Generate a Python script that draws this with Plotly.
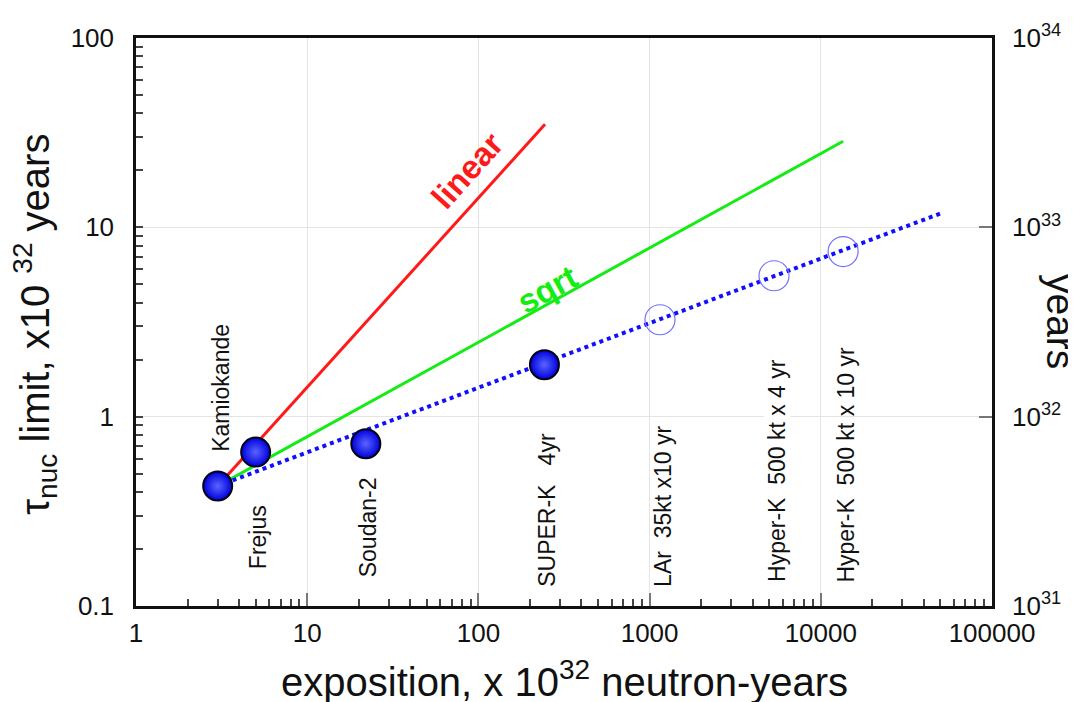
import plotly.graph_objects as go
import math

# ---- data ----
NB = "\u00a0"
exp_names = ["Kamiokande", "Frejus", "Soudan-2", "SUPER-K" + NB * 3 + "4yr"]
exp_x = [3, 5, 22, 243]
exp_y = [0.43, 0.65, 0.72, 1.88]

fut_names = ["LAr" + NB * 2 + "35kt x10 yr", "Hyper-K" + NB * 2 + "500 kt x 4 yr",
             "Hyper-K" + NB * 2 + "500 kt x 10 yr"]
fut_x = [1150, 5330, 13500]
fut_y = [3.25, 5.55, 7.45]

linear_x = [3, 245]
linear_y = [0.43, 35]
sqrt_x = [3, 13500]
sqrt_y = [0.43, 28.5]
fit_x = [3, 52000]
fit_y = [0.43, 12.0]

x_tickvals = [1, 10, 100, 1000, 10000, 100000]
x_ticktext = ["1", "10", "100", "1000", "10000", "100000"]
y_tickvals = [0.1, 1, 10, 100]
y_ticktext = ["0.1", "1", "10", "100"]
y2_ticktext = ["10<sup>31</sup>", "10<sup>32</sup>", "10<sup>33</sup>", "10<sup>34</sup>"]

# minor tick positions (2..9 within each decade)
x_minor = [m * 10 ** e for e in range(0, 5) for m in range(2, 10)]
y_minor = [m * 10.0 ** e for e in range(-1, 2) for m in range(2, 10)]

# combined tick lists for the main axes (labels only on decades)
x_all = x_tickvals + x_minor
x_all_text = x_ticktext + [""] * len(x_minor)
y_all = y_tickvals + y_minor
y_all_text = y_ticktext + [""] * len(y_minor)

FONT = "Liberation Sans, Arial, sans-serif"

fig = go.Figure()

fig.add_trace(go.Scatter(x=linear_x, y=linear_y, mode="lines",
                         line=dict(color="#ff1a1a", width=3), hoverinfo="skip"))
fig.add_trace(go.Scatter(x=sqrt_x, y=sqrt_y, mode="lines",
                         line=dict(color="#14ec14", width=3), hoverinfo="skip"))
fig.add_trace(go.Scatter(x=fit_x, y=fit_y, mode="lines",
                         line=dict(color="#1010ff", width=4, dash="dot"), hoverinfo="skip"))
fig.add_trace(go.Scatter(x=fut_x, y=fut_y, mode="markers",
                         marker=dict(symbol="circle-open", size=30, color="#7070ff",
                                     line=dict(width=1.2, color="#7070ff"))))
fig.add_trace(go.Scatter(x=exp_x, y=exp_y, mode="markers",
                         marker=dict(symbol="circle", size=29, color="#0000dc",
                                     gradient=dict(type="radial", color="#5a64ff"),
                                     line=dict(width=2, color="#000010"))))
# invisible traces that carry the overlay axes
fig.add_trace(go.Scatter(x=exp_x[:1], y=exp_y[:1], xaxis="x", yaxis="y2", mode="markers",
                         marker=dict(opacity=0), hoverinfo="skip"))
fig.add_trace(go.Scatter(x=exp_x[:1], y=exp_y[:1], xaxis="x2", yaxis="y", mode="markers",
                         marker=dict(opacity=0), hoverinfo="skip"))

# vertical experiment labels (bottom anchored positions in paper coords)
all_names = exp_names + fut_names
all_x = exp_x + fut_x
label_bottom_px = [452, 570, 578, 587, 587, 583, 583]
plot_top, plot_bot = 34.5, 605.7
H = plot_bot - plot_top
for i, (nm, xv) in enumerate(zip(all_names, all_x)):
    yb = (plot_bot - label_bottom_px[i]) / H
    fig.add_annotation(x=math.log10(xv), y=yb, xref="x", yref="paper",
                       text=nm, textangle=-90, showarrow=False,
                       xanchor="center", yanchor="bottom", xshift=3,
                       font=dict(family=FONT, size=23, color="#111"),
                       bgcolor="white" if i == 5 else None, borderpad=0)

fig.add_annotation(x=math.log10(86), y=math.log10(20), xref="x", yref="y",
                   text="<b>linear</b>", textangle=-48, showarrow=False,
                   font=dict(family=FONT, size=33, color="#ff1a1a"))
fig.add_annotation(x=math.log10(251), y=math.log10(4.7), xref="x", yref="y",
                   text="<b>sqrt</b>", textangle=-29, showarrow=False,
                   font=dict(family=FONT, size=33, color="#14ec14"))

# axis titles
fig.add_annotation(x=0.5, y=-0.128, xref="paper", yref="paper",
                   text="exposition, x 10<sup>32</sup> neutron-years", showarrow=False,
                   xanchor="center", yanchor="middle",
                   font=dict(family=FONT, size=40, color="#111"))
fig.add_annotation(x=-0.118, y=0.497, xref="paper", yref="paper",
                   text="τ<sub>nuc</sub> limit, x10 <sup>32</sup> years", textangle=-90,
                   showarrow=False, xanchor="center", yanchor="middle",
                   font=dict(family=FONT, size=40, color="#111"))
fig.add_annotation(x=1.08, y=0.501, xref="paper", yref="paper",
                   text="years", textangle=90, showarrow=False,
                   xanchor="center", yanchor="middle",
                   font=dict(family=FONT, size=39, color="#111"))

main_axis = dict(showline=True, linecolor="#111", linewidth=2.5, mirror=True,
                 ticks="inside", ticklen=7, tickcolor="#444", tickwidth=1.5,
                 showgrid=False, zeroline=False, tickmode="array",
                 tickfont=dict(family=FONT, size=26, color="#111"))
major_overlay = dict(showline=False, zeroline=False, showticklabels=False,
                     showgrid=True, gridcolor="#e4e4e4", gridwidth=1,
                     ticks="inside", ticklen=13, tickcolor="#777", tickwidth=2,
                     tickmode="array")

# page body has an 8px margin: the figure is sized so the plot lands where the reference has it
fig.update_layout(
    width=1068, height=694,
    margin=dict(l=128, r=84, t=27, b=96),
    paper_bgcolor="white", plot_bgcolor="white",
    showlegend=False,
    xaxis=dict(type="log", range=[0, 5], tickvals=x_all, ticktext=x_all_text,
               ticklabelstandoff=2, **main_axis),
    yaxis=dict(type="log", range=[-1, 2], tickvals=y_all, ticktext=y_all_text,
               ticklabelstandoff=14, **main_axis),
    xaxis2=dict(type="log", range=[0, 5], overlaying="x", side="bottom", anchor="y",
                tickvals=x_tickvals, **major_overlay),
    yaxis2=dict(type="log", range=[-1, 2], overlaying="y", side="right", anchor="x",
                tickmode="array", tickvals=y_tickvals, ticktext=y2_ticktext,
                showline=False, zeroline=False,
                showgrid=True, gridcolor="#e4e4e4", gridwidth=1,
                ticks="inside", ticklen=13, tickcolor="#777", tickwidth=2,
                tickfont=dict(family=FONT, size=26, color="#111"),
                ticklabelstandoff=19),
)

fig.write_html("out.html")
